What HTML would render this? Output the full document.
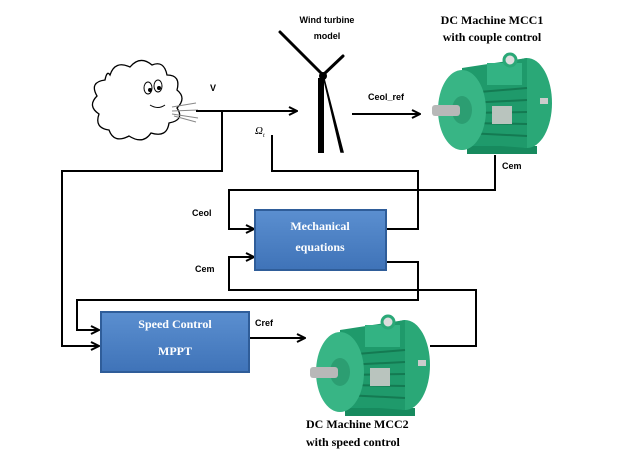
<!DOCTYPE html>
<html><head><meta charset="utf-8"><style>
html,body{margin:0;padding:0;background:#fff;}
svg{display:block;}
.s{font-family:"Liberation Sans",sans-serif;font-weight:bold;font-size:9px;fill:#000;}
.t{font-family:"Liberation Serif",serif;font-weight:bold;font-size:12px;fill:#000;}
.w{font-family:"Liberation Serif",serif;font-weight:bold;font-size:12px;fill:#fff;}
</style></head><body>
<svg width="626" height="457" viewBox="0 0 626 457" xmlns="http://www.w3.org/2000/svg">
<defs>
<marker id="a" markerWidth="10" markerHeight="10" refX="9" refY="5" orient="auto" markerUnits="userSpaceOnUse"><path d="M1,1 L9,5 L1,9" fill="none" stroke="#000" stroke-width="2"/></marker>
<linearGradient id="bx" x1="0" y1="0" x2="0" y2="1"><stop offset="0" stop-color="#5b8fd0"/><stop offset="1" stop-color="#3f73b8"/></linearGradient>
<g id="motor">
<rect x="40" y="80" width="60" height="25" fill="#1e9a6c"/>
<rect x="35" y="98" width="70" height="8" fill="#178a5e"/>
<ellipse cx="95" cy="55" rx="25" ry="45" fill="#2aa877"/>
<path d="M30,20 L95,10 L95,100 L30,95 Z" fill="#1f9a6b"/>
<g stroke="#147a52" stroke-width="2">
<line x1="35" y1="45" x2="95" y2="40"/><line x1="35" y1="55" x2="95" y2="52"/><line x1="35" y1="65" x2="95" y2="64"/><line x1="35" y1="75" x2="95" y2="76"/><line x1="35" y1="85" x2="95" y2="88"/></g>
<rect x="55" y="15" width="35" height="22" fill="#33b383"/>
<circle cx="78" cy="12" r="6" fill="#ddd" stroke="#2aa877" stroke-width="3"/>
<rect x="60" y="58" width="20" height="18" fill="#b9c4be"/>
<ellipse cx="30" cy="62" rx="24" ry="40" fill="#38b585"/>
<ellipse cx="30" cy="62" rx="10" ry="14" fill="#2c9e72"/>
<rect x="0" y="57" width="28" height="11" rx="3" fill="#b8b8b8"/>
<rect x="108" y="50" width="8" height="6" fill="#ccc"/>
</g>
</defs>

<!-- cloud -->
<g fill="#fff" stroke="#000" stroke-width="1.3">
<path d="M110,75 q5,-15 20,-8 q10,-12 22,-2 q12,-5 15,10 q14,0 10,15 q10,8 0,18 q8,12 -8,15 q-2,15 -18,10 q-8,12 -22,3 q-15,8 -20,-6 q-15,-2 -10,-16 q-12,-8 -2,-18 q-8,-14 8,-16 q2,-10 5,-5z"/>
</g>
<g stroke="#000" stroke-width="1"><ellipse cx="148" cy="88" rx="4" ry="6" fill="#fff"/><ellipse cx="158" cy="86" rx="4" ry="6" fill="#fff"/><circle cx="150" cy="90" r="1.5"/><circle cx="159" cy="88" r="1.5"/><path d="M150,105 q8,5 15,0" fill="none"/></g>
<g stroke="#888" stroke-width="1"><line x1="172" y1="107" x2="196" y2="103"/><line x1="172" y1="111" x2="198" y2="110"/><line x1="172" y1="114" x2="198" y2="118"/><line x1="174" y1="116" x2="196" y2="122"/></g>

<!-- turbine -->
<rect x="318" y="78" width="6" height="75" fill="#000"/>
<g stroke="#000" stroke-width="3" fill="none" stroke-linecap="round">
<line x1="323" y1="75" x2="280" y2="32"/><line x1="323" y1="75" x2="343" y2="56"/></g>
<path d="M323,75 L343,152 L341,152 Z" fill="#000" stroke="#000" stroke-width="1.5"/>
<circle cx="323" cy="76" r="4" fill="#000"/>
<text class="s" x="327" y="23" text-anchor="middle">Wind turbine</text>
<text class="s" x="327" y="39" text-anchor="middle">model</text>

<text class="t" x="492" y="24" text-anchor="middle">DC Machine MCC1</text>
<text class="t" x="492" y="41" text-anchor="middle">with couple control</text>
<use href="#motor" transform="translate(432,48)"/>
<use href="#motor" transform="translate(310,310)"/>
<text class="t" x="306" y="428">DC Machine MCC2</text>
<text class="t" x="306" y="446">with speed control</text>

<!-- lines -->
<g stroke="#000" stroke-width="2" fill="none">
<line x1="196" y1="111" x2="297" y2="111" marker-end="url(#a)"/>
<line x1="352" y1="114" x2="420" y2="114" marker-end="url(#a)"/>
<polyline points="222,111 222,171 62,171 62,346 99,346" marker-end="url(#a)"/>
<polyline points="272,135 272,171 418,171 418,229 386,229"/>
<polyline points="495,155 495,190 229,190 229,229 254,229" marker-end="url(#a)"/>
<polyline points="254,257 229,257 229,290 476,290 476,346 430,346" marker-start="url(#a)"/>
<polyline points="386,262 418,262 418,300 77,300 77,330 99,330" marker-end="url(#a)"/>
<line x1="249" y1="338" x2="305" y2="338" marker-end="url(#a)"/>
</g>
<line x1="254" y1="257" x2="246" y2="253" stroke="#000" stroke-width="2"/>
<line x1="254" y1="257" x2="246" y2="261" stroke="#000" stroke-width="2"/>

<!-- boxes -->
<rect x="255" y="210" width="131" height="60" fill="url(#bx)" stroke="#2f5d99" stroke-width="2"/>
<text class="w" x="320" y="230" text-anchor="middle">Mechanical</text>
<text class="w" x="320" y="251" text-anchor="middle">equations</text>
<rect x="101" y="312" width="148" height="60" fill="url(#bx)" stroke="#2f5d99" stroke-width="2"/>
<text class="w" x="175" y="328" text-anchor="middle">Speed Control</text>
<text class="w" x="175" y="355" text-anchor="middle">MPPT</text>

<!-- labels -->
<text class="s" x="210" y="91">V</text>
<text x="255" y="134" font-family="Liberation Serif,serif" font-style="italic" font-size="11" fill="#000">Ω<tspan font-size="6" dy="3">t</tspan></text>
<text class="s" x="368" y="100">Ceol_ref</text>
<text class="s" x="502" y="169">Cem</text>
<text class="s" x="192" y="216">Ceol</text>
<text class="s" x="195" y="272">Cem</text>
<text class="s" x="255" y="326">Cref</text>
</svg>
</body></html>
